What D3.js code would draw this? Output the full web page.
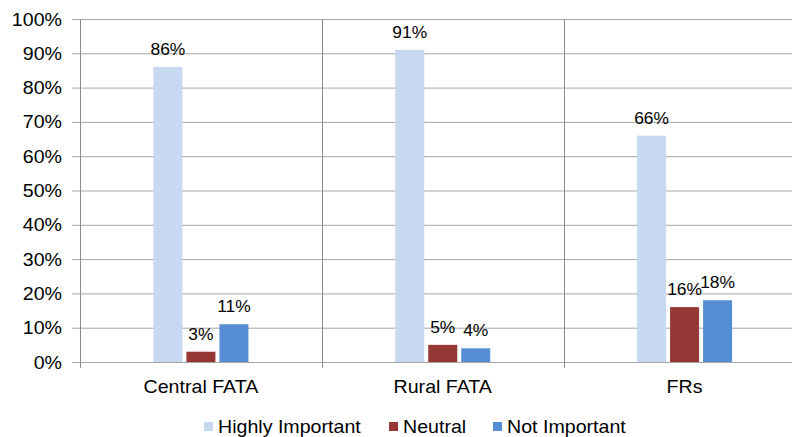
<!DOCTYPE html>
<html><head><meta charset="utf-8">
<script src="https://cdn.jsdelivr.net/npm/d3@7"></script>
<style>body{margin:0;background:#fff}svg{display:block}text{font-family:"Liberation Sans",Arial,sans-serif;fill:#000}</style>
</head><body>
<svg id="c" width="792" height="437"></svg>
<script>
const categories = ["Central FATA", "Rural FATA", "FRs"];
const seriesNames = ["Highly Important", "Neutral", "Not Important"];
const highlyImportant = [86, 91, 66];
const neutral = [3, 5, 16];
const notImportant = [11, 4, 18];
const yTicks = [0,10,20,30,40,50,60,70,80,90,100];
const colors = ["#C6D9F1", "#953735", "#558ED5"];

const values = [highlyImportant, neutral, notImportant];
const svg = d3.select("#c");
const SX = 1.09;
const x0 = d3.scaleBand().domain(categories).range([80, 805.5]).padding(0);
const x1 = d3.scaleBand().domain(seriesNames).range([0, 95]).paddingInner(4/33).paddingOuter(0);
const y = d3.scaleLinear().domain([0, 100]).range([362, 19]);

function stext(g, x, yy, txt, size, anchor) {
  return g.append("text").attr("transform", `translate(${x},${yy}) scale(${SX},1)`)
    .attr("text-anchor", anchor).attr("font-size", size).text(txt);
}

// horizontal gridlines
svg.append("g").selectAll("line").data(yTicks).join("line")
  .attr("x1", 72).attr("x2", 805).attr("y1", d => y(d)+0.5).attr("y2", d => y(d)+0.5)
  .attr("stroke", "#a6a6a6").attr("stroke-width", 1);
// vertical lines: axis + category separators
const bounds = [80, ...categories.slice(1).map(c => x0(c))];
svg.append("g").selectAll("line").data(bounds).join("line")
  .attr("x1", d => Math.round(d)+0.5).attr("x2", d => Math.round(d)+0.5)
  .attr("y1", y(100)).attr("y2", 368)
  .attr("stroke", "#8c8c8c").attr("stroke-width", 1);

// y labels
const yl = svg.append("g");
yTicks.forEach(t => stext(yl, 62, y(t) + 6.5, t + "%", 18, "end"));

// bars
const gb = svg.append("g");
categories.forEach((c, ci) => {
  const gx = x0(c) + x0.bandwidth()/2 - 47.5;
  seriesNames.forEach((s, si) => {
    const v = values[si][ci];
    const bx = gx + x1(s);
    gb.append("rect").attr("x", bx).attr("y", y(v)).attr("width", x1.bandwidth())
      .attr("height", y(0) - y(v)).attr("fill", colors[si]);
    stext(gb, bx + x1.bandwidth()/2, y(v) - 12, v + "%", 16, "middle");
  });
  stext(gb, x0(c) + x0.bandwidth()/2, 393, c, 18, "middle");
});

// legend
const lg = svg.append("g");
const lx = [204, 389, 493];
seriesNames.forEach((s, i) => {
  lg.append("rect").attr("x", lx[i]).attr("y", 422).attr("width", 9).attr("height", 9).attr("fill", colors[i]);
  stext(lg, lx[i] + 14, 433, s, 18, "start");
});
</script>
</body></html>
